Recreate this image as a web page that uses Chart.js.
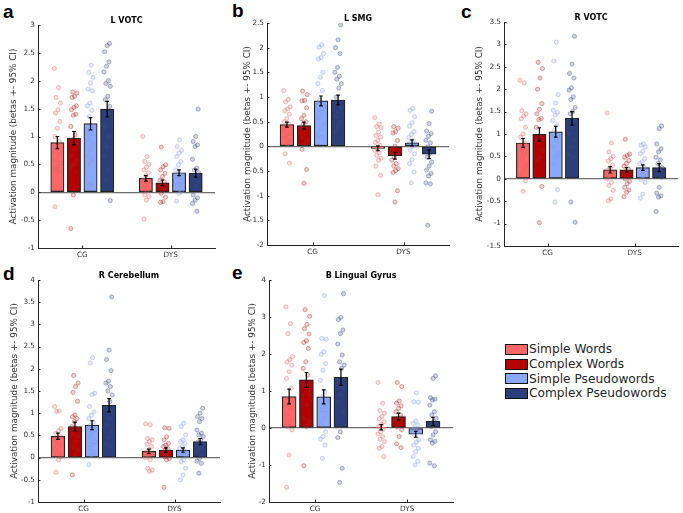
<!DOCTYPE html>
<html>
<head>
<meta charset="utf-8">
<script src="https://cdn.jsdelivr.net/npm/chart.js@4"></script>
<style>
  body { margin: 0; background: #fff; width: 683px; height: 513px; position: relative; overflow: hidden; font-family: "DejaVu Sans", sans-serif; }
  canvas { position: absolute; }
  .letter { position: absolute; font: bold 19px "Liberation Sans", Arial, sans-serif; line-height: 19px; color: #000; }
  #legend { position: absolute; left: 505px; top: 342px; }
  .row { display: flex; align-items: center; height: 14.7px; font-size: 12.2px; color: #262626; white-space: nowrap; }
  .swatch { box-sizing: border-box; width: 23px; height: 11px; border: 1.5px solid #111; margin-right: 1px; }
</style>
</head>
<body>
<div class="letter" style="left:3px;top:2px">a</div>
<div class="letter" style="left:232px;top:1px">b</div>
<div class="letter" style="left:461px;top:2px">c</div>
<div class="letter" style="left:3px;top:264px">d</div>
<div class="letter" style="left:232px;top:263px">e</div>
<div id="legend"></div>

<script>
// === Data ===
const groups = ['CG', 'DYS'];
const conditions = ['Simple Words', 'Complex Words', 'Simple Pseudowords', 'Complex Pseudowords'];

// means / CI half-widths: one [CG, DYS] pair per condition
const aMeans = [[0.89, 0.25], [0.97, 0.17], [1.23, 0.35], [1.49, 0.34]];
const aCI = [[0.11, 0.05], [0.12, 0.05], [0.11, 0.05], [0.14, 0.07]];
const aPoints = [
    [[2.22, 1.88, 1.70, 1.60, 1.48, 1.42, 1.27, 1.15, 1.0, 0.91, 0.82, 0.74, 0.68, 0.58, 0.52, 0.47, 0.43, 0.38, 0.36, -0.26],
     [1.0, 0.64, 0.55, 0.50, 0.45, 0.40, 0.35, 0.30, 0.22, 0.18, 0.13, 0.06, 0.02, -0.05, -0.08, -0.14, -0.48]],
    [[1.80, 1.78, 1.72, 1.70, 1.55, 1.52, 1.48, 1.40, 1.38, 1.18, 1.03, 0.94, 0.85, 0.76, 0.66, 0.58, 0.50, 0.46, 0.37, -0.05, -0.65],
     [0.81, 0.49, 0.46, 0.40, 0.34, 0.28, 0.22, 0.19, 0.12, 0.10, 0.05, -0.02, -0.09, -0.17, -0.18]],
    [[2.28, 2.15, 2.06, 1.96, 1.85, 1.82, 1.60, 1.55, 1.47, 1.36, 1.20, 1.10, 0.94, 0.85, 0.76, 0.65, 0.58, 0.55, 0.49, 0.16, 0.13],
     [0.94, 0.82, 0.75, 0.70, 0.64, 0.55, 0.49, 0.40, 0.33, 0.28, 0.19, 0.14, 0.10, 0.02, -0.02, -0.16]],
    [[2.67, 2.63, 2.52, 2.34, 2.26, 2.16, 2.0, 1.95, 1.90, 1.72, 1.66, 1.54, 1.36, 1.18, 1.0, 0.82, 0.64, 0.40, 0.22, -0.15],
     [1.49, 1.0, 0.91, 0.85, 0.82, 0.59, 0.43, 0.40, 0.35, 0.31, 0.25, 0.19, 0.10, -0.05, -0.10, -0.14, -0.20, -0.34]]
];

const bMeans = [[0.44, -0.04], [0.42, -0.19], [0.92, 0.07], [0.94, -0.16]];
const bCI = [[0.05, 0.05], [0.07, 0.07], [0.10, 0.06], [0.10, 0.09]];
const bPoints = [
    [[1.13, 0.95, 0.90, 0.80, 0.76, 0.72, 0.65, 0.56, 0.50, 0.45, 0.38, 0.32, 0.26, 0.19, 0.12, 0.05, -0.15, -0.34],
     [0.58, 0.45, 0.40, 0.38, 0.29, 0.22, 0.19, 0.12, 0.08, 0.02, -0.05, -0.08, -0.13, -0.18, -0.24, -0.28, -0.40, -0.59, -0.98]],
    [[1.12, 1.05, 0.93, 0.92, 0.78, 0.63, 0.56, 0.50, 0.45, 0.36, 0.29, 0.18, 0.12, 0.05, -0.06, -0.47, -0.75],
     [0.40, 0.37, 0.30, 0.27, 0.12, 0.0, -0.05, -0.15, -0.22, -0.28, -0.35, -0.40, -0.45, -0.49, -0.53, -0.90, -1.13]],
    [[2.06, 2.01, 1.88, 1.80, 1.77, 1.50, 1.40, 1.27, 1.13, 0.93, 0.80, 0.70, 0.59, 0.46, 0.35, 0.23, 0.19],
     [0.77, 0.73, 0.60, 0.48, 0.41, 0.30, 0.24, 0.18, 0.12, 0.09, 0.04, 0.0, -0.08, -0.15, -0.27, -0.35, -0.52, -0.74]],
    [[2.46, 2.16, 2.0, 1.88, 1.60, 1.50, 1.42, 1.36, 1.27, 1.18, 1.0, 0.80, 0.70, 0.60, 0.49, 0.39, 0.30],
     [0.71, 0.46, 0.31, 0.26, 0.20, 0.12, 0.07, -0.01, -0.10, -0.15, -0.22, -0.32, -0.40, -0.48, -0.55, -0.60, -0.74, -0.76, -1.60]]
];

const cMeans = [[0.80, 0.20], [0.99, 0.20], [1.05, 0.25], [1.35, 0.25]];
const cCI = [[0.10, 0.07], [0.15, 0.05], [0.12, 0.06], [0.15, 0.09]];
const cPoints = [
    [[2.20, 2.14, 1.52, 1.45, 1.40, 1.34, 1.15, 1.0, 0.93, 0.80, 0.71, 0.60, 0.56, 0.45, 0.30, 0.19, 0.10, -0.04, -0.28],
     [1.47, 0.80, 0.60, 0.50, 0.45, 0.40, 0.30, 0.25, 0.19, 0.12, 0.07, 0.0, -0.08, -0.15, -0.26, -0.45, -0.49]],
    [[2.60, 2.46, 2.25, 2.0, 1.68, 1.55, 1.45, 1.35, 1.32, 1.15, 0.95, 0.86, 0.63, 0.48, 0.41, -0.17, -0.98],
     [0.88, 0.55, 0.52, 0.48, 0.41, 0.34, 0.28, 0.22, 0.15, 0.11, 0.05, 0.0, -0.06, -0.11, -0.19, -0.25, -0.30, -0.40]],
    [[3.05, 2.63, 1.88, 1.69, 1.53, 1.48, 1.42, 1.30, 1.20, 1.08, 0.96, 0.86, 0.71, 0.58, 0.48, 0.34, -0.24, -0.52],
     [0.78, 0.75, 0.71, 0.62, 0.56, 0.45, 0.38, 0.34, 0.25, 0.19, 0.12, 0.07, -0.02, -0.08, -0.34, -0.43]],
    [[3.18, 2.56, 2.35, 2.25, 2.03, 1.98, 1.83, 1.77, 1.59, 1.50, 1.45, 1.30, 1.15, 1.0, 0.85, 0.71, 0.55, 0.48, -0.52, -0.97],
     [1.18, 1.12, 0.78, 0.67, 0.60, 0.48, 0.42, 0.34, 0.25, 0.22, 0.11, 0.04, -0.19, -0.32, -0.38, -0.41, -0.73]]
];

const dMeans = [[0.48, 0.14], [0.70, 0.17], [0.73, 0.17], [1.18, 0.36]];
const dCI = [[0.07, 0.05], [0.10, 0.05], [0.10, 0.05], [0.15, 0.07]];
const dPoints = [
    [[1.15, 1.05, 1.04, 0.66, 0.60, 0.55, 0.47, 0.40, 0.36, 0.30, 0.25, 0.18, 0.13, 0.08, 0.02, -0.05, -0.33],
     [0.76, 0.74, 0.43, 0.40, 0.36, 0.30, 0.25, 0.18, 0.13, 0.08, 0.06, 0.0, -0.05, -0.24, -0.28, -0.31]],
    [[1.85, 1.68, 1.60, 1.47, 1.27, 0.96, 0.92, 0.88, 0.81, 0.70, 0.66, 0.55, 0.47, 0.36, 0.25, 0.17, 0.05, -0.39],
     [0.67, 0.66, 0.47, 0.40, 0.32, 0.28, 0.25, 0.20, 0.17, 0.12, 0.06, 0.02, -0.02, -0.05, -0.67]],
    [[2.25, 2.13, 1.45, 1.42, 1.15, 1.03, 0.95, 0.88, 0.80, 0.73, 0.65, 0.58, 0.47, 0.36, 0.30, 0.22, 0.12, 0.06, -0.16],
     [0.77, 0.70, 0.51, 0.40, 0.36, 0.32, 0.25, 0.21, 0.15, 0.10, 0.04, -0.05, -0.09, -0.24, -0.39, -0.50]],
    [[3.62, 2.42, 2.21, 1.96, 1.72, 1.68, 1.60, 1.50, 1.41, 1.26, 1.10, 1.03, 0.88, 0.73, 0.58, 0.45, 0.30, 0.25],
     [1.11, 1.0, 0.92, 0.88, 0.81, 0.62, 0.55, 0.51, 0.47, 0.40, 0.35, 0.28, 0.20, 0.13, 0.05, -0.02, -0.08, -0.13, -0.35]]
];

const eMeans = [[0.85, 0.02], [1.30, 0.31], [0.84, -0.17], [1.37, 0.18]];
const eCI = [[0.20, 0.07], [0.20, 0.09], [0.19, 0.08], [0.22, 0.11]];
const ePoints = [
    [[3.27, 2.82, 2.55, 1.93, 1.85, 1.78, 1.70, 1.52, 1.34, 1.07, 0.80, 0.60, 0.53, 0.35, 0.25, 0.17, 0.05, -0.05, -0.73, -1.60],
     [1.23, 0.67, 0.47, 0.40, 0.31, 0.25, 0.17, 0.10, 0.04, -0.03, -0.10, -0.16, -0.23, -0.30, -0.37, -0.50, -0.55, -0.77]],
    [[3.20, 3.02, 2.80, 2.69, 2.54, 2.36, 2.31, 2.15, 1.79, 1.61, 1.43, 1.16, 0.89, 0.62, 0.26, 0.17, 0.04, -1.02],
     [1.23, 1.12, 0.73, 0.67, 0.60, 0.53, 0.44, 0.35, 0.26, 0.20, 0.13, 0.03, -0.05, -0.23, -0.43, -0.53]],
    [[3.58, 2.42, 2.40, 2.06, 1.99, 1.74, 1.56, 1.29, 0.98, 0.85, 0.71, 0.60, 0.49, 0.40, 0.26, 0.10, -0.10, -0.23, -0.30, -0.46, -0.82],
     [0.95, 0.71, 0.70, 0.19, 0.12, 0.08, 0.0, -0.05, -0.10, -0.20, -0.32, -0.38, -0.46, -0.55, -0.64, -0.77, -0.90, -1.0]],
    [[3.63, 2.99, 2.93, 2.65, 2.55, 2.27, 1.97, 1.79, 1.70, 1.61, 1.25, 1.07, 0.90, 0.71, 0.44, -0.10, -0.26, -1.09, -1.47],
     [1.41, 1.34, 0.82, 0.78, 0.76, 0.62, 0.44, 0.35, 0.26, 0.17, 0.04, -0.10, -0.19, -0.32, -0.36, -0.41, -0.95, -1.02]]
];

// === Styles ===
const barColors = ['#ff6666', '#b40000', '#8aa8fb', '#2c3f7b'];
const dotFill = ['rgba(225,110,110,0.22)', 'rgba(175,40,40,0.22)', 'rgba(140,160,230,0.22)', 'rgba(60,78,140,0.25)'];
const dotEdge = ['rgba(215,100,100,0.45)', 'rgba(165,30,30,0.45)', 'rgba(130,150,220,0.45)', 'rgba(55,70,130,0.45)'];
const FONT = '"DejaVu Sans", sans-serif';
const CAT_PCT = 0.75, BAR_PCT = 0.8;

// panel boxes in page pixels: canvas (x, y, w, h) and plot area (l, t, r, b)
const panels = [
    { title: 'L VOTC', means: aMeans, ci: aCI, pts: aPoints, min: -1, max: 3, step: 0.5,
      x: 0, y: 0, w: 230, h: 262, l: 38, t: 25, r: 215, b: 248, titleX: 14 },
    { title: 'L SMG', means: bMeans, ci: bCI, pts: bPoints, min: -2, max: 2.5, step: 0.5,
      x: 228, y: 0, w: 228, h: 262, l: 267, t: 23, r: 449, b: 245, titleX: 20 },
    { title: 'R VOTC', means: cMeans, ci: cCI, pts: cPoints, min: -1.5, max: 3.5, step: 0.5,
      x: 456, y: 0, w: 227, h: 262, l: 504, t: 22, r: 682, b: 246, titleX: 24 },
    { title: 'R Cerebellum', means: dMeans, ci: dCI, pts: dPoints, min: -1, max: 4, step: 0.5,
      x: 0, y: 256, w: 230, h: 257, l: 38, t: 280, r: 220, b: 502, titleX: 15 },
    { title: 'B Lingual Gyrus', means: eMeans, ci: eCI, pts: ePoints, min: -2, max: 4, step: 1,
      x: 228, y: 256, w: 230, h: 257, l: 269, t: 280, r: 455, b: 502, titleX: 25 }
];

// small fixed horizontal spread so the dots do not sit on one line
function jitter(i, k) {
    return ((((i * 7 + k * 3) % 11) / 10) - 0.5) * 0.07;
}

// === Plugins ===
const errorBars = {
    id: 'errorBars',
    afterDatasetsDraw(chart) {
        const ctx = chart.ctx;
        const y = chart.scales.y;
        ctx.save();
        ctx.strokeStyle = '#000';
        ctx.lineWidth = 1.2;
        chart.data.datasets.forEach((ds, di) => {
            if (!ds.ci) return;
            chart.getDatasetMeta(di).data.forEach((el, i) => {
                const m = ds.data[i].y;
                const top = y.getPixelForValue(m + ds.ci[i]);
                const bot = y.getPixelForValue(m - ds.ci[i]);
                ctx.beginPath();
                ctx.moveTo(el.x, top); ctx.lineTo(el.x, bot);
                ctx.moveTo(el.x - 1.8, top); ctx.lineTo(el.x + 1.8, top);
                ctx.moveTo(el.x - 1.8, bot); ctx.lineTo(el.x + 1.8, bot);
                ctx.stroke();
            });
        });
        ctx.restore();
    }
};

// title above the plot plus the short inward tick marks of the axes
const panelDecor = {
    id: 'panelDecor',
    afterDraw(chart, args, opts) {
        const { ctx, chartArea, scales } = chart;
        ctx.save();
        ctx.font = 'bold 8px ' + FONT;
        ctx.fillStyle = '#000';
        ctx.textAlign = 'center';
        ctx.textBaseline = 'alphabetic';
        ctx.fillText(opts.text, (chartArea.left + chartArea.right) / 2, chartArea.top - 2.5);

        ctx.strokeStyle = '#262626';
        ctx.lineWidth = 1;
        ctx.beginPath();
        scales.y.ticks.forEach(t => {
            const py = Math.round(scales.y.getPixelForValue(t.value)) + 0.5;
            ctx.moveTo(chartArea.left, py); ctx.lineTo(chartArea.left + 2.5, py);
        });
        scales.x.ticks.forEach((t, i) => {
            const px = Math.round(scales.x.getPixelForTick(i)) + 0.5;
            ctx.moveTo(px, chartArea.bottom); ctx.lineTo(px, chartArea.bottom - 2.5);
        });
        ctx.stroke();
        ctx.restore();
    }
};

// === Build panels ===
function makePanel(p) {
    const cv = document.createElement('canvas');
    cv.width = p.w;
    cv.height = p.h;
    cv.style.left = p.x + 'px';
    cv.style.top = p.y + 'px';
    document.body.appendChild(cv);

    // bars and dots share one hidden linear axis laid over the CG/DYS category axis
    const slot = CAT_PCT / groups.length / 2;            // one bar slot, in category units
    const barPx = (p.r - p.l) / groups.length * slot * BAR_PCT;
    const datasets = [];
    conditions.forEach((name, k) => {
        const center = (k - 1.5) * CAT_PCT / 4;
        datasets.push({
            type: 'bar', label: name,
            data: groups.map((g, gi) => ({ x: gi + center, y: p.means[k][gi] })),
            ci: p.ci[k],
            backgroundColor: barColors[k], borderColor: '#222', borderWidth: 1.2,
            borderSkipped: false, grouped: false, barThickness: barPx,
            xAxisID: 'x2', yAxisID: 'y', order: 2
        });
    });
    conditions.forEach((name, k) => {
        const center = (k - 1.5) * CAT_PCT / 4;
        const pts = [];
        p.pts[k].forEach((vals, g) => {
            vals.forEach((v, i) => pts.push({ x: g + center + jitter(i, k), y: v }));
        });
        datasets.push({
            type: 'scatter', label: name + ' subjects', data: pts,
            pointRadius: 2.1, backgroundColor: dotFill[k], borderColor: dotEdge[k], borderWidth: 0.8,
            xAxisID: 'x2', yAxisID: 'y', order: 1
        });
    });

    const tickFont = { family: FONT, size: 7.3 };
    new Chart(cv.getContext('2d'), {
        type: 'bar',
        data: { labels: groups, datasets },
        options: {
            responsive: false,
            animation: false,
            events: [],
            layout: { padding: { left: 0, top: p.t - p.y, right: p.w - (p.r - p.x), bottom: 0 } },
            plugins: {
                legend: { display: false },
                tooltip: { enabled: false },
                panelDecor: { text: p.title }
            },
            scales: {
                x: {
                    type: 'category', offset: true,
                    grid: { display: false, drawTicks: false },
                    border: { color: '#262626', width: 1 },
                    ticks: { font: tickFont, color: '#333', padding: 3 },
                    afterFit: s => { s.height = p.h - (p.b - p.y); }
                },
                x2: {
                    type: 'linear', display: false, offset: false,
                    grid: { offset: false },
                    min: -0.5, max: 1.5
                },
                y: {
                    min: p.min, max: p.max,
                    ticks: {
                        stepSize: p.step, font: tickFont, color: '#333', padding: 3,
                        callback: v => String(Math.round(v * 10) / 10)
                    },
                    grid: {
                        drawTicks: false,
                        color: c => (c.tick && c.tick.value === 0) ? '#6e6e6e' : 'rgba(0,0,0,0)',
                        lineWidth: 1.2
                    },
                    border: { color: '#262626', width: 1 },
                    title: {
                        display: true, text: 'Activation magnitude (betas +- 95% CI)',
                        font: { family: FONT, size: 8.8 }, color: '#333',
                        padding: { top: p.titleX - 5.3, bottom: 0 }
                    },
                    afterFit: s => { s.width = p.l - p.x; }
                }
            }
        },
        plugins: [errorBars, panelDecor]
    });
}

panels.forEach(makePanel);

// === Legend ===
const legend = document.getElementById('legend');
conditions.forEach((name, k) => {
    const row = document.createElement('div');
    row.className = 'row';
    row.innerHTML = '<div class="swatch" style="background:' + barColors[k] + '"></div><span>' + name + '</span>';
    legend.appendChild(row);
});
</script>
</body>
</html>
